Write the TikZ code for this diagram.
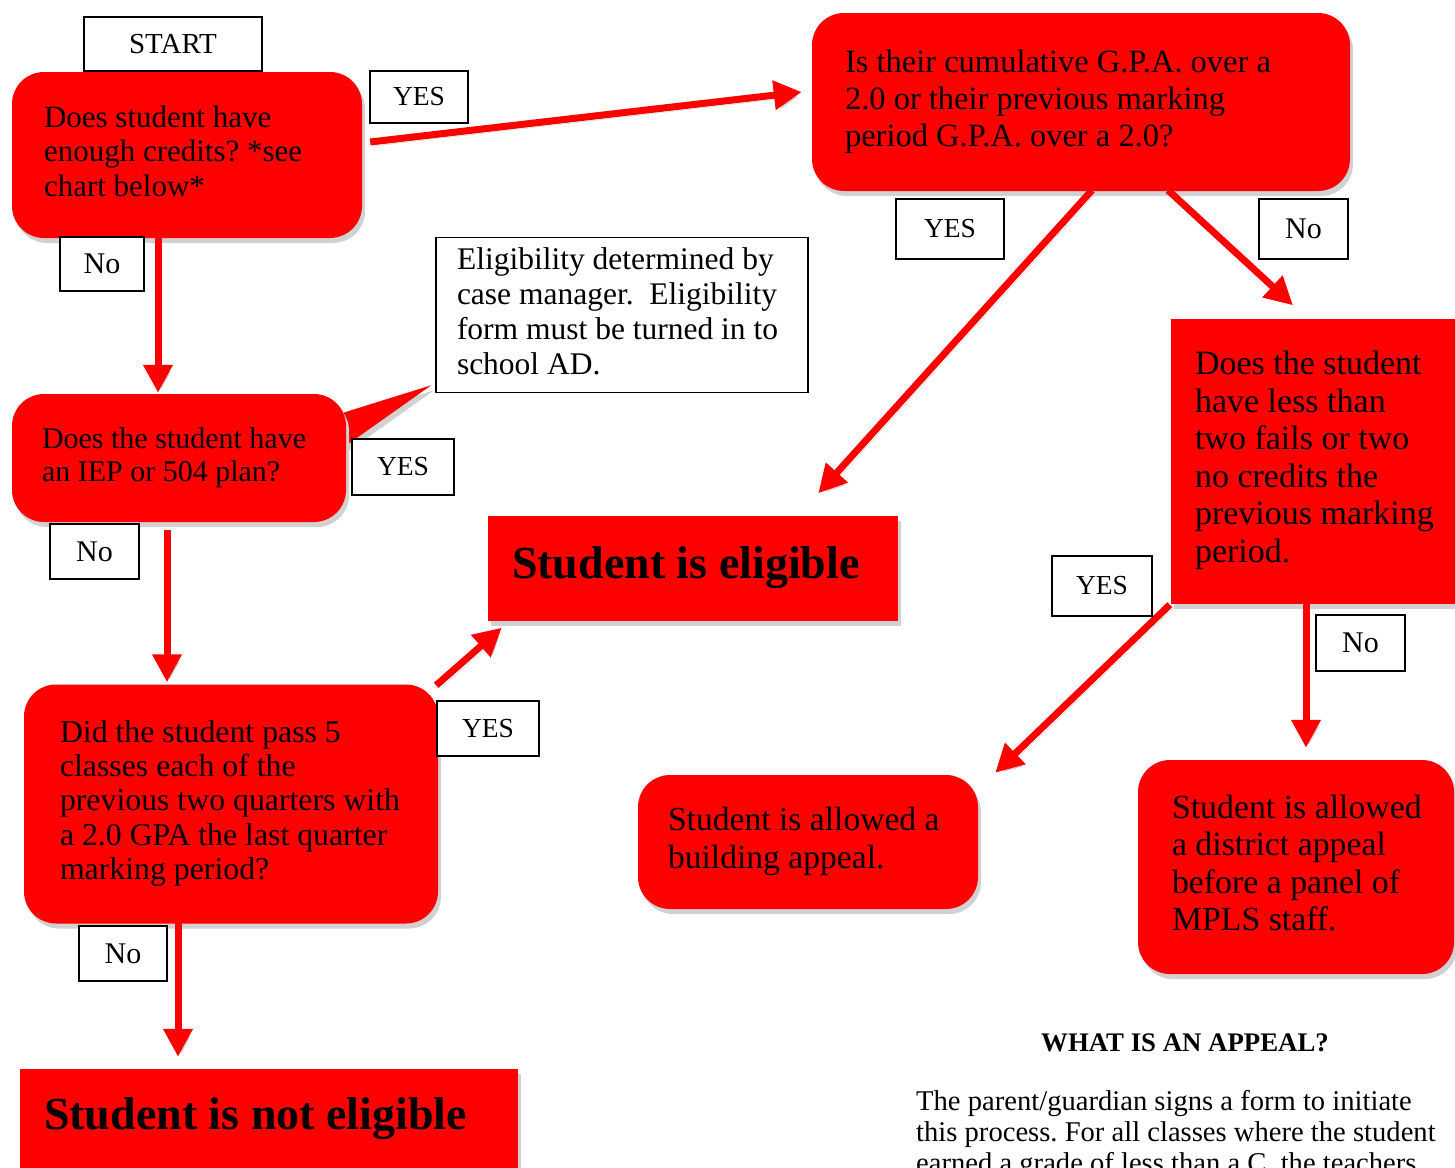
\documentclass[tikz,border=0pt]{standalone}
\usepackage{fontspec}
\setmainfont{Liberation Serif}
\usetikzlibrary{arrows.meta,shadows,backgrounds}
\frenchspacing
\newcommand{\boxlines}[2]{\makebox[#1][l]{\begin{tabular}{@{}l@{}}#2\end{tabular}}}
\newcommand{\fsz}[2]{\fontsize{#1}{#2}\selectfont}

\begin{document}
\begin{tikzpicture}[x=1pt,y=-1pt,
    redbox/.style={fill=red, inner xsep=#1, inner ysep=0pt,
      drop shadow={shadow xshift=3pt,shadow yshift=-5pt,fill=black!18,opacity=1}},
    roundbox/.style={redbox=#1, rounded corners=32pt},
    tag/.style={draw=black, line width=1.5pt, fill=white, inner sep=0pt},
    flow/.style={red, line width=7pt, -{Triangle[length=28pt,width=28pt]},
      preaction={draw=black!18, transform canvas={shift={(3pt,-4pt)}}}}]
\path[use as bounding box, clip] (0,0) rectangle (1455,1167);

% questions and outcomes
\node[roundbox=32pt, minimum width=350pt, minimum height=166pt] (q1) at (187,155)
  {\fsz{31}{34.5}\boxlines{286pt}{Does student have\\ enough credits? *see\\ chart below*}};
\node[roundbox=30pt, minimum width=334pt, minimum height=128pt] (q2) at (179,458)
  {\fsz{30}{33}\boxlines{274pt}{Does the student have\\ an IEP or 504 plan?}};
\node[roundbox=36pt, minimum width=414pt, minimum height=239pt] (q3) at (231,804)
  {\fsz{31.8}{34.3}\boxlines{342pt}{Did the student pass 5\\ classes each of the\\ previous two quarters with\\ a 2.0 GPA the last quarter\\ marking period?}};
\node[redbox=24pt, minimum width=498pt, minimum height=100pt] (noteli) at (269,1119)
  {\fsz{46}{52}\bfseries\boxlines{450pt}{Student is not eligible}};
\node[redbox=24pt, minimum width=410pt, minimum height=105pt] (eli) at (693,568)
  {\fsz{46}{52}\bfseries\boxlines{362pt}{Student is eligible}};
\node[roundbox=33pt, minimum width=538pt, minimum height=178pt] (gpa) at (1081,102)
  {\fsz{32.5}{37}\boxlines{472pt}{Is their cumulative G.P.A. over a\\ 2.0 or their previous marking\\ period G.P.A. over a 2.0?}};
\node[redbox=24pt, minimum width=284pt, minimum height=285pt] (q5) at (1313,461)
  {\fsz{34}{37.5}\boxlines{236pt}{Does the student\\ have less than\\ two fails or two\\ no credits the\\ previous marking\\ period.}};
\node[roundbox=30pt, minimum width=340pt, minimum height=134pt] (bapp) at (808,842)
  {\fsz{33.6}{38}\boxlines{280pt}{Student is allowed a\\ building appeal.}};
\node[roundbox=34pt, minimum width=316pt, minimum height=214pt] (dapp) at (1296,867)
  {\fsz{33.8}{37.5}\boxlines{248pt}{Student is allowed\\ a district appeal\\ before a panel of\\ MPLS staff.}};

\node[draw=black, line width=1.5pt, fill=white, inner xsep=21pt, inner ysep=0pt,
  minimum width=372pt, minimum height=155pt] (elignote) at (622,315)
  {\fsz{31.5}{35}\boxlines{330pt}{Eligibility determined by\\ case manager.\ \ Eligibility\\ form must be turned in to\\ school AD.}};
\begin{scope}[on background layer]
\fill[red, drop shadow={shadow xshift=3pt,shadow yshift=-5pt,fill=black!18,opacity=1}]
  ([xshift=-16pt,yshift=-23pt]q2.north east) -- ([xshift=-4pt,yshift=8pt]elignote.south west)
  -- ([xshift=-16pt,yshift=-63pt]q2.north east) -- cycle;
\end{scope}

% connectors
\draw[flow] ([xshift=8pt,yshift=13pt]q1.east) -- ([xshift=-10pt,yshift=10pt]gpa.west);
\draw[flow] ([xshift=-29pt,yshift=2pt]q1.south) -- ([xshift=-21pt,yshift=1pt]q2.north);
\draw[flow] ([xshift=-12pt,yshift=-8pt]q2.south) -- ([xshift=-64pt,yshift=2pt]q3.north);
\draw[flow] ([xshift=-2pt,yshift=-1pt]q3.north east) -- ([xshift=14pt,yshift=-7pt]eli.south west);
\draw[flow] ([xshift=-53pt,yshift=2pt]q3.south) -- ([xshift=-91pt,yshift=12pt]noteli.north);
\draw[flow] ([xshift=11pt,yshift=1pt]gpa.south) -- ([xshift=-80pt,yshift=22pt]eli.north east);
\draw[flow] ([xshift=87pt,yshift=1pt]gpa.south) -- ([xshift=-20pt,yshift=13pt]q5.north);
\draw[flow] ([xshift=-1pt,yshift=-1pt]q5.south west) -- ([xshift=17pt,yshift=2pt]bapp.north east);
\draw[flow] ([xshift=-7pt,yshift=1pt]q5.south) -- ([xshift=10pt,yshift=12pt]dapp.north);

% answer tags
\node[tag, minimum width=178pt, minimum height=54pt] (start) at (173,44) {\fsz{29}{34}START};
\node[tag, minimum width=98pt, minimum height=52pt] (yes1) at (419,97) {\fsz{27.5}{32}YES};
\node[tag, minimum width=84pt, minimum height=54pt] (no1) at (102,264) {\fsz{30}{34}No};
\node[tag, minimum width=102pt, minimum height=56pt] (yes2) at (403,467) {\fsz{27.5}{32}YES};
\node[tag, minimum width=89pt, minimum height=55pt] (no2) at (94.5,551.5) {\fsz{30}{34}No};
\node[tag, minimum width=102pt, minimum height=55pt] (yes3) at (488,728.5) {\fsz{27.5}{32}YES};
\node[tag, minimum width=88pt, minimum height=55pt] (no3) at (123,953.5) {\fsz{30}{34}No};
\node[tag, minimum width=108pt, minimum height=60pt] (yes4) at (950,229) {\fsz{27.5}{32}YES};
\node[tag, minimum width=89pt, minimum height=60pt] (no4) at (1303.5,229) {\fsz{30}{34}No};
\node[tag, minimum width=100pt, minimum height=60pt] (yes5) at (1102,586) {\fsz{27.5}{32}YES};
\node[tag, minimum width=89pt, minimum height=56pt] (no5) at (1360.5,643) {\fsz{30}{34}No};

% appeal note
\node (appealhead) at (1185,1043) {\fsz{26.8}{31}\bfseries WHAT IS AN APPEAL?};
\node[anchor=west, inner sep=0pt] (appealtext) at (916,1135)
  {\fsz{28.6}{31}\begin{tabular}{@{}l@{}}The parent/guardian signs a form to initiate\\ this process. For all classes where the student\\ earned a grade of less than a C, the teachers\end{tabular}};
\end{tikzpicture}
\end{document}
